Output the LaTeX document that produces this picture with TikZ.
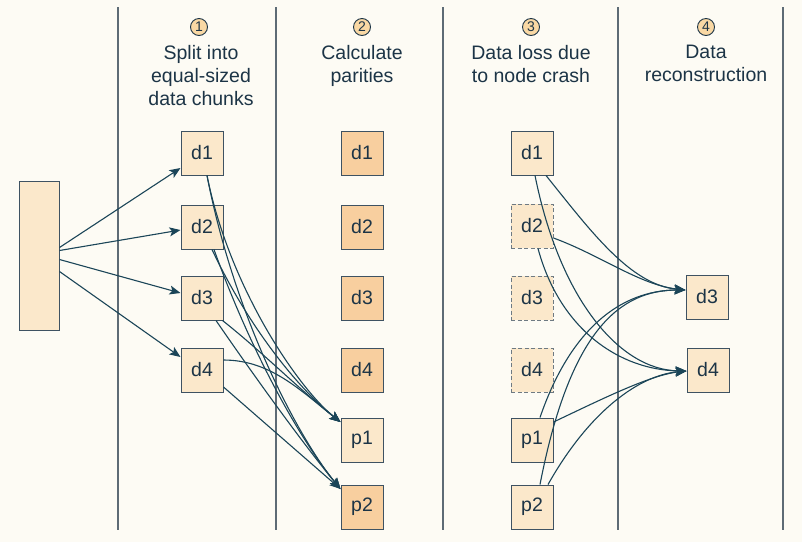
\documentclass[tikz,border=0pt]{standalone}
\usepackage{fontspec}
\setmainfont{Liberation Sans}
\usetikzlibrary{arrows.meta}
\definecolor{bg}{HTML}{FDFBF4}
\definecolor{ink}{HTML}{1C3446}
\definecolor{edge}{HTML}{1B4558}
\definecolor{light}{HTML}{FBE8CB}
\definecolor{dark}{HTML}{F8CF9F}
\definecolor{sep}{HTML}{5E6B75}
\definecolor{numfill}{HTML}{F9D8A4}
\begin{document}
\begin{tikzpicture}[x=1pt,y=-1pt,
  font=\fontsize{19.5}{23}\selectfont, text=ink,
  box/.style={draw=ink!85, line width=1pt, minimum width=42pt, minimum height=44pt, inner sep=0pt, fill=light},
  darkbox/.style={box, fill=dark},
  lostbox/.style={box, draw=sep!90, dashed, dash pattern=on 4pt off 2.5pt},
  sepline/.style={draw=sep, line width=1.1pt},
  conn/.style={draw=edge, line width=1.1pt, -{Stealth[length=11pt,width=9pt,inset=2.5pt]}},
  num/.style={circle, draw=ink, line width=0.9pt, fill=numfill, inner sep=0pt, minimum size=17pt, font=\fontsize{14}{14}\selectfont},
  head/.style={align=center, anchor=north}
]
\useasboundingbox (0,0) rectangle (802,542);
\fill[bg] (0,0) rectangle (802,542);

% separators
\foreach \x in {118,276,443,618,783} \draw[sepline] (\x,7) -- (\x,530);

% headers
\node[num] (n1) at (199,27) {1};
\node[num] (n2) at (362,27) {2};
\node[num] (n3) at (531,27) {3};
\node[num] (n4) at (706,27) {4};
\node[head] (h1) at (201,42) {Split into\\equal-sized\\data chunks};
\node[head] (h2) at (362,42) {Calculate\\parities};
\node[head] (h3) at (531,42) {Data loss due\\to node crash};
\node[head] (h4) at (706,42) {Data\\reconstruction};

% source
\node[box, minimum width=40pt, minimum height=149pt] (src) at (39,255.5) {};

% column 1
\node[box] (a1) at (202,153) {d1};
\node[box] (a2) at (202,227) {d2};
\node[box] (a3) at (202,298) {d3};
\node[box] (a4) at (202,370) {d4};

% column 2
\node[darkbox] (b1) at (362,153) {d1};
\node[darkbox] (b2) at (362,227) {d2};
\node[darkbox] (b3) at (362,298) {d3};
\node[darkbox] (b4) at (362,370) {d4};
\node[box] (bp1) at (362,440) {p1};
\node[darkbox] (bp2) at (362,507) {p2};

% column 3
\node[box] (c1) at (532,153) {d1};
\node[lostbox] (c2) at (532,226) {d2};
\node[lostbox] (c3) at (532,298) {d3};
\node[lostbox] (c4) at (532,370) {d4};
\node[box] (cp1) at (532,440) {p1};
\node[box] (cp2) at (532,507) {p2};

% column 4
\node[box] (e3) at (707,297) {d3};
\node[box] (e4) at (708,370) {d4};

% source to chunks
\draw[conn] ([yshift=8pt]src.east) -- ([yshift=-15pt]a1.west);
\draw[conn] ([yshift=5pt]src.east) -- ([yshift=-3pt]a2.west);
\draw[conn] ([yshift=-4pt]src.east) -- ([yshift=5pt]a3.west);
\draw[conn] ([yshift=-16pt]src.east) -- ([yshift=13pt]a4.west);

% chunks to parities
\draw[conn] ([xshift=5pt]a1.south) .. controls (230,290) and (300,390) .. ([yshift=18pt]bp1.west);
\draw[conn] ([xshift=5pt]a1.south) .. controls (235,320) and (300,440) .. ([yshift=18pt]bp2.west);
\draw[conn] ([xshift=10pt]a2.south) .. controls (250,330) and (300,390) .. ([yshift=18pt]bp1.west);
\draw[conn] ([xshift=12pt]a2.south) .. controls (250,350) and (300,440) .. ([yshift=18pt]bp2.west);
\draw[conn] ([xshift=-1pt]a3.south east) .. controls (260,350) and (300,390) .. ([yshift=18pt]bp1.west);
\draw[conn] ([xshift=14pt]a3.south) .. controls (250,370) and (300,440) .. ([yshift=18pt]bp2.west);
\draw[conn] ([yshift=10pt]a4.east) .. controls (270,360) and (300,390) .. ([yshift=18pt]bp1.west);
\draw[conn] ([yshift=-17pt]a4.east) -- ([yshift=18pt]bp2.west);

% reconstruction
\draw[conn] ([xshift=14pt]c1.south) .. controls (590,230) and (630,285) .. ([yshift=7pt]e3.west);
\draw[conn] ([xshift=3pt]c1.south) .. controls (560,300) and (620,370) .. ([yshift=-1pt]e4.west);
\draw[conn] ([yshift=-12pt]c2.east) .. controls (600,255) and (640,285) .. ([yshift=7pt]e3.west);
\draw[conn] ([xshift=6pt]c2.south) .. controls (560,330) and (620,370) .. ([yshift=-1pt]e4.west);
\draw[conn] ([xshift=8pt]cp1.north) .. controls (570,330) and (620,290) .. ([yshift=7pt]e3.west);
\draw[conn] ([yshift=18pt]cp1.east) .. controls (600,400) and (650,375) .. ([yshift=-1pt]e4.west);
\draw[conn] ([xshift=8pt]cp2.north) .. controls (570,330) and (620,290) .. ([yshift=7pt]e3.west);
\draw[conn] ([xshift=16pt]cp2.north) .. controls (590,410) and (640,375) .. ([yshift=-1pt]e4.west);
\end{tikzpicture}
\end{document}
